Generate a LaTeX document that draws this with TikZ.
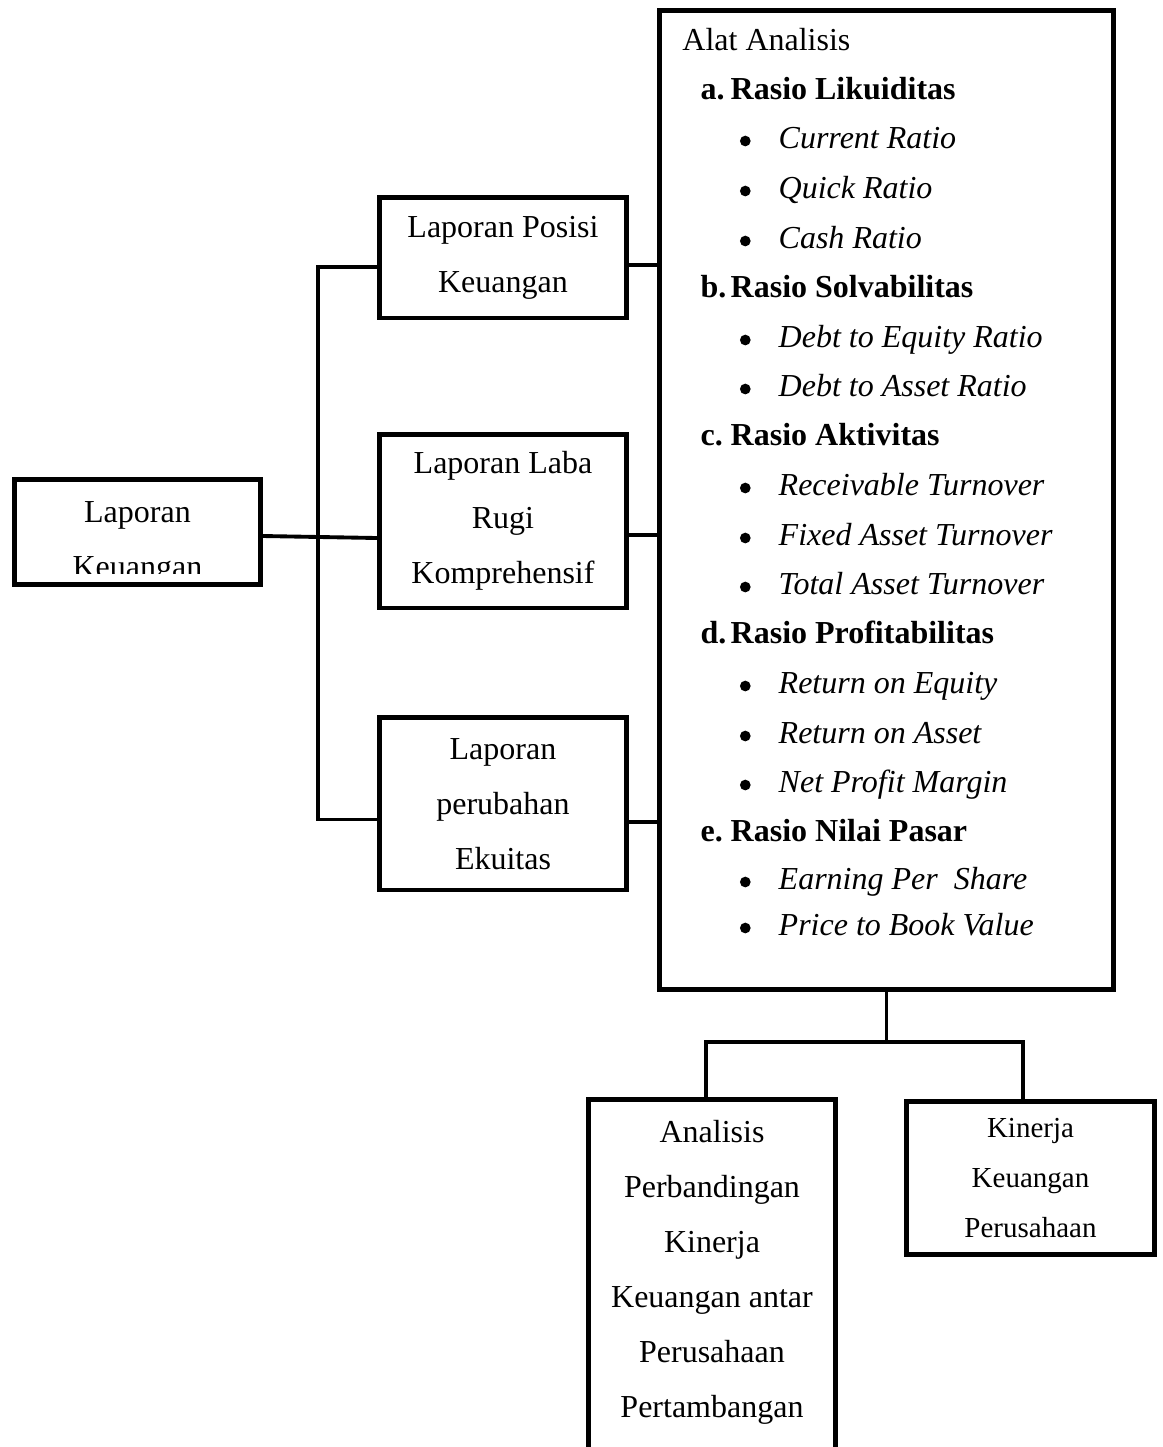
\documentclass[tikz,border=0pt]{standalone}
\usepackage{fontspec}
\setmainfont{Liberation Serif}
\usepackage{tikz}

\begin{document}
\begin{tikzpicture}[x=0.01cm, y=-0.01cm,
    box/.style={draw=black, line width=1.4pt, align=center, inner sep=0pt, font=\fontsize{9.1}{15.65}\selectfont},
    link/.style={line width=1.1pt},
    txt/.style={inner sep=0pt, font=\fontsize{9.1}{15.65}\selectfont},
    head/.style={anchor=base west, inner sep=0pt, font=\fontsize{9.1}{15.65}\selectfont\bfseries},
    item/.style={anchor=base west, inner sep=0pt, font=\fontsize{9.1}{15.65}\selectfont\itshape},
    dot/.style={circle, fill=black, inner sep=0pt, minimum size=0.107cm}]
            \useasboundingbox (0,0) rectangle (1163,1447);

            % laporan keuangan
            \node[box, minimum width=2.46cm, minimum height=1.045cm] (lk) at (137.5,532) {};
            \begin{scope}
                \clip (17,483) rectangle (258,573);
                \node[txt, anchor=base] (lkt1) at (137.5,522) {Laporan};
                \node[txt, anchor=base] (lkt2) at (137.5,577) {Keuangan};
            \end{scope}

            \node[box, minimum width=2.47cm, minimum height=1.205cm] (lpk) at (503,257.7) {Laporan Posisi\\Keuangan};
            \node[box, minimum width=2.47cm, minimum height=1.735cm] (llr) at (503,521.2) {Laporan Laba\\Rugi\\Komprehensif};
            \node[box, minimum width=2.47cm, minimum height=1.725cm] (lpe) at (503,803.7) {Laporan\\perubahan\\Ekuitas};

            % alat analisis
            \node[box, minimum width=4.54cm, minimum height=9.785cm] (big) at (886.5,500.2) {};
            \node[txt, anchor=base west] (title) at (681.7,50) {Alat Analisis};

            \node[head] (ha) at (700,99) {a.};
            \node[head] (hat) at (730,99) {Rasio Likuiditas};
            \node[dot] (d1) at (745.3,141) {};
            \node[item] (i1) at (778,148) {Current Ratio};
            \node[dot] (d2) at (745.3,191) {};
            \node[item] (i2) at (778,198) {Quick Ratio};
            \node[dot] (d3) at (745.3,241) {};
            \node[item] (i3) at (778,248) {Cash Ratio};

            \node[head] (hb) at (700,297) {b.};
            \node[head] (hbt) at (730,297) {Rasio Solvabilitas};
            \node[dot] (d4) at (745.3,340) {};
            \node[item] (i4) at (778,347) {Debt to Equity Ratio};
            \node[dot] (d5) at (745.3,389) {};
            \node[item] (i5) at (778,396) {Debt to Asset Ratio};

            \node[head] (hc) at (700,445) {c.};
            \node[head] (hct) at (730,445) {Rasio Aktivitas};
            \node[dot] (d6) at (745.3,488) {};
            \node[item] (i6) at (778,495) {Receivable Turnover};
            \node[dot] (d7) at (745.3,538) {};
            \node[item] (i7) at (778,545) {Fixed Asset Turnover};
            \node[dot] (d8) at (745.3,587) {};
            \node[item] (i8) at (778,594) {Total Asset Turnover};

            \node[head] (hd) at (700,643) {d.};
            \node[head] (hdt) at (730,643) {Rasio Profitabilitas};
            \node[dot] (d9) at (745.3,686) {};
            \node[item] (i9) at (778,693) {Return on Equity};
            \node[dot] (d10) at (745.3,736) {};
            \node[item] (i10) at (778,743) {Return on Asset};
            \node[dot] (d11) at (745.3,785) {};
            \node[item] (i11) at (778,792) {Net Profit Margin};

            \node[head] (he) at (700,841) {e.};
            \node[head] (het) at (730,841) {Rasio Nilai Pasar};
            \node[dot] (d12) at (745.3,882) {};
            \node[item] (i12) at (778,889) {Earning Per\ \ Share};
            \node[dot] (d13) at (745.3,928) {};
            \node[item] (i13) at (778,935) {Price to Book Value};

            % hasil
            \node[box, minimum width=2.47cm, minimum height=3.8cm] (ap) at (712,1290) {};
            \node[txt, align=center] (apt) at (712,1272) {Analisis\\Perbandingan\\Kinerja\\Keuangan antar\\Perusahaan\\Pertambangan};
            \node[box, minimum width=2.48cm, minimum height=1.525cm, font=\fontsize{8.25}{14.23}\selectfont] (kk) at (1030.5,1178.2) {Kinerja\\Keuangan\\Perusahaan};

            % garis
            \coordinate (bt) at (318,267);
            \coordinate (bb) at (318,819.5);
            \draw[link] (lpk.west |- bt) -- (bt) -- (bb) -- (lpe.west |- bb);
            \draw[link] (lk.east |- 0,536) -- (llr.west |- 0,538);

            \draw[link] (lpk.east |- 0,265) -- (big.west |- 0,265);
            \draw[link] (llr.east |- 0,535) -- (big.west |- 0,535);
            \draw[link] (lpe.east |- 0,822) -- (big.west |- 0,822);

            \coordinate (hl) at (706,1042);
            \coordinate (hr) at (1023,1042);
            \draw[link] (big.south) -- (big.south |- hl);
            \draw[link] (ap.north -| hl) -- (hl) -- (hr) -- (kk.north -| hr);
\end{tikzpicture}
\end{document}
